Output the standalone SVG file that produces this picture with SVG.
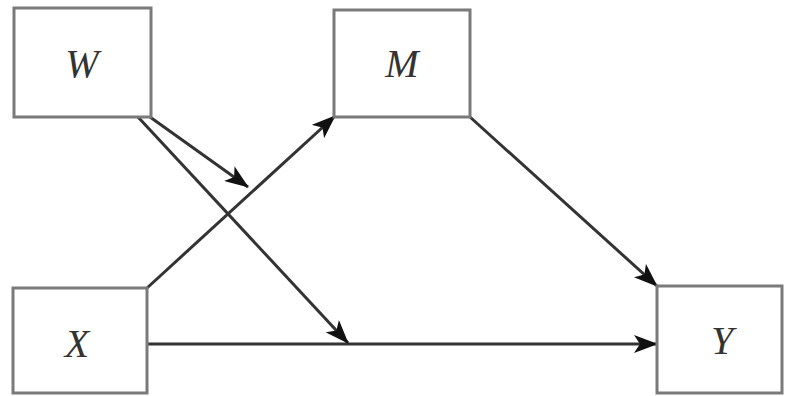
<svg xmlns="http://www.w3.org/2000/svg" width="786" height="396" viewBox="0 0 786 396">
<defs>
<marker id="ah" viewBox="0 0 24 18" refX="23" refY="9" markerWidth="24" markerHeight="18" markerUnits="userSpaceOnUse" orient="auto">
<path d="M0,0 L24,9 L0,18 L6,9 Z" fill="#111"/>
</marker>
</defs>
<style>
.box{fill:#fff;stroke:#7a7a7a;stroke-width:3}
.lbl{font-family:"Liberation Serif",serif;font-style:italic;font-size:40px;fill:#333;text-anchor:middle;dominant-baseline:central}
.edge{stroke:#333;stroke-width:3;fill:none;marker-end:url(#ah)}
</style>
<rect width="786" height="396" fill="#fff"/>
<g id="connectors">
<line class="edge" x1="147" y1="288" x2="335" y2="116"/>
<line class="edge" x1="470" y1="117" x2="657" y2="286"/>
<line class="edge" x1="147" y1="344" x2="657" y2="344"/>
<line class="edge" x1="150" y1="117" x2="248" y2="187"/>
<line class="edge" x1="138" y1="117" x2="348" y2="343"/>
</g>
<g id="W"><rect class="box" x="14" y="8" width="137" height="109"/><text class="lbl" x="82" y="63">W</text></g>
<g id="M"><rect class="box" x="334" y="10" width="136" height="107"/><text class="lbl" x="402" y="63">M</text></g>
<g id="X"><rect class="box" x="13" y="288" width="134" height="105"/><text class="lbl" x="77" y="343">X</text></g>
<g id="Y"><rect class="box" x="657" y="286" width="125" height="107"/><text class="lbl" x="722" y="340">Y</text></g>
</svg>
